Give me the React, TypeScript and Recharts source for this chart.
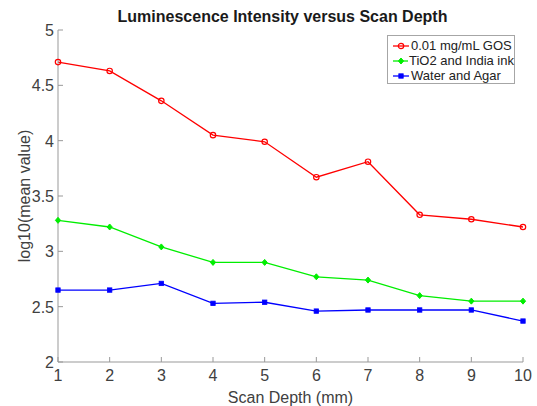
import { LineChart, Line, XAxis, YAxis, Label } from 'recharts';

const depth = [1, 2, 3, 4, 5, 6, 7, 8, 9, 10];
const gos = [4.71, 4.63, 4.36, 4.05, 3.99, 3.67, 3.81, 3.33, 3.29, 3.22];
const tio2 = [3.28, 3.22, 3.04, 2.9, 2.9, 2.77, 2.74, 2.6, 2.55, 2.55];
const water = [2.65, 2.65, 2.71, 2.53, 2.54, 2.46, 2.47, 2.47, 2.47, 2.37];

const xTicks = [1, 2, 3, 4, 5, 6, 7, 8, 9, 10];
const yTicks = [2, 2.5, 3, 3.5, 4, 4.5, 5];

const seriesInfo = [
  { key: 'gos', name: '0.01 mg/mL GOS', color: '#ff0000', shape: 'circle' },
  { key: 'tio2', name: 'TiO2 and India ink', color: '#00ee00', shape: 'diamond' },
  { key: 'water', name: 'Water and Agar', color: '#0000ff', shape: 'square' },
];

const data = depth.map((d, i) => ({ depth: d, gos: gos[i], tio2: tio2[i], water: water[i] }));

const FONT = '"Liberation Sans", Arial, Helvetica, sans-serif';
const TEXT = '#404040';
const AXIS = '#999999';

const Marker = ({ cx, cy, color, shape }: any) => {
  if (cx == null || cy == null) return null;
  if (shape === 'circle')
    return <circle cx={cx} cy={cy} r={2.7} fill="none" stroke={color} strokeWidth={1.2} />;
  if (shape === 'diamond')
    return (
      <path
        d={`M${cx},${cy - 3} L${cx + 2.6},${cy} L${cx},${cy + 3} L${cx - 2.6},${cy} Z`}
        fill={color}
        stroke={color}
        strokeWidth={1}
      />
    );
  return <rect x={cx - 2.2} y={cy - 2.2} width={4.4} height={4.4} fill={color} stroke={color} strokeWidth={0.8} />;
};

const XTick = ({ x, y, payload }: any) => (
  <g>
    <line x1={x} y1={y - 6} x2={x} y2={y - 11} stroke={AXIS} strokeWidth={1} />
    <text x={x} y={y + 13} textAnchor="middle" fontSize={16} fill={TEXT} fontFamily={FONT}>
      {payload.value}
    </text>
  </g>
);

const YTick = ({ x, y, payload }: any) => (
  <g>
    <line x1={x + 4} y1={y} x2={x + 9} y2={y} stroke={AXIS} strokeWidth={1} />
    <text x={x} y={y + 6} textAnchor="end" fontSize={16} fill={TEXT} fontFamily={FONT}>
      {payload.value}
    </text>
  </g>
);

const LegendBox = () => (
  <div
    style={{
      position: 'absolute',
      left: 387,
      top: 35,
      width: 128,
      height: 49,
      boxSizing: 'border-box',
      border: '1px solid #a6a6a6',
      background: '#fff',
      padding: '2px 0 0 4px',
      fontFamily: FONT,
      fontSize: 13,
      color: '#222',
      whiteSpace: 'nowrap',
    }}
  >
    {seriesInfo.map((s) => (
      <div key={s.key} style={{ display: 'flex', alignItems: 'center', height: 15 }}>
        <svg width={18} height={10} style={{ marginRight: 1 }}>
          <line x1={1} y1={5} x2={17} y2={5} stroke={s.color} strokeWidth={1.3} />
          <Marker cx={9} cy={5} color={s.color} shape={s.shape} />
        </svg>
        <span>{s.name}</span>
      </div>
    ))}
  </div>
);

export default function App() {
  return (
    <div style={{ position: 'absolute', left: 0, top: 0, width: 537, height: 406, background: '#fff' }}>
      <div
        style={{
          position: 'absolute',
          top: 8,
          left: 40,
          width: 485,
          textAlign: 'center',
          fontFamily: FONT,
          fontWeight: 'bold',
          fontSize: 16,
          color: '#1a1a1a',
        }}
      >
        Luminescence Intensity versus Scan Depth
      </div>
      <LineChart width={537} height={406} data={data} margin={{ top: 30, right: 14, bottom: 24, left: 18 }}>
        <XAxis
          dataKey="depth"
          type="number"
          domain={[1, 10]}
          ticks={xTicks}
          tickSize={0}
          tickMargin={6}
          tick={<XTick />}
          height={20}
          axisLine={{ stroke: AXIS }}
        >
          <Label
            value="Scan Depth (mm)"
            position="bottom"
            offset={10}
            style={{ fontFamily: FONT, fontSize: 16, fill: TEXT }}
          />
        </XAxis>
        <YAxis
          type="number"
          domain={[2, 5]}
          ticks={yTicks}
          tickSize={0}
          tickMargin={4}
          tick={<YTick />}
          width={40}
          axisLine={{ stroke: AXIS }}
        />
        {seriesInfo.map((s) => (
          <Line
            key={s.key}
            dataKey={s.key}
            name={s.name}
            stroke={s.color}
            strokeWidth={1.3}
            isAnimationActive={false}
            dot={(p: any) => <Marker key={`${s.key}-${p.index}`} cx={p.cx} cy={p.cy} color={s.color} shape={s.shape} />}
          />
        ))}
      </LineChart>
      <div
        style={{
          position: 'absolute',
          left: 25,
          top: 196,
          transform: 'translate(-50%, -50%) rotate(-90deg)',
          fontFamily: FONT,
          fontSize: 16,
          color: TEXT,
          whiteSpace: 'nowrap',
        }}
      >
        log10(mean value)
      </div>
      <LegendBox />
    </div>
  );
}
